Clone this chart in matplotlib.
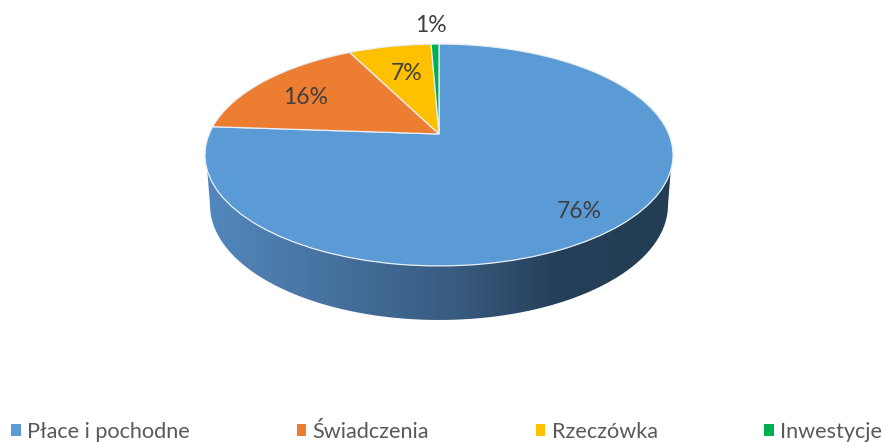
import numpy as np
import matplotlib
matplotlib.use("Agg")
import matplotlib.pyplot as plt
from matplotlib.colors import LinearSegmentedColormap
from matplotlib.patches import Patch, PathPatch
from matplotlib.path import Path
from matplotlib.transforms import Transform

plt.rcParams["font.family"] = ["Lato", "DejaVu Sans"]

categories = ["Płace i pochodne", "Świadczenia", "Rzeczówka", "Inwestycje"]
values = [76.1, 16.4, 6.85, 0.65]
colors = ["#5B9BD5", "#ED7D31", "#FFC000", "#00B050"]
label_pos = [(579, 211), (306, 98), (407, 74), (431, 26)]

# Geometria tilted pie w pikselach
APEX_X, APEX_Y = 439, 134
TILT = 0.189
SCALE_X, SCALE_Y = 229.8, 107.0


class PiePerspective(Transform):
    # Rzut kola jednostkowego z ax.pie na pochylona tarcze
    input_dims = 2
    output_dims = 2
    has_inverse = False

    def transform_non_affine(self, xy):
        xy = np.asarray(xy)
        w = 1 + TILT * xy[:, 1]
        return np.column_stack([APEX_X + SCALE_X * xy[:, 0] / w,
                                APEX_Y - SCALE_Y * xy[:, 1] / w])


fig = plt.figure(figsize=(8.86, 4.42), dpi=100)
ax = fig.add_axes([0, 0, 1, 1])

wedges, _, autotexts = ax.pie(
    values, colors=colors, startangle=90, counterclock=False,
    autopct="%.0f%%", textprops={"fontsize": 16.5, "color": "#404040"},
    wedgeprops={"edgecolor": "#e8eef5", "linewidth": 0.9},
)
persp = PiePerspective() + ax.transData
for w in wedges:
    w.set_transform(persp)
    w.set_zorder(3)
for t, pos in zip(autotexts, label_pos):
    t.set_position(pos)
    t.set_zorder(4)

# Bok tarczy: gradient przyciety do obszaru miedzy dwiema elipsami
t_top = np.radians(np.linspace(172, 8, 120))
top_edge = np.column_stack([439 + 234 * np.cos(t_top), 155 + 111 * np.sin(t_top)])
t_low = np.radians(np.linspace(0, 180, 120))
low_edge = np.column_stack([439 + 229 * np.cos(t_low), 205 + 115 * np.sin(t_low)])
side_path = Path(np.vstack([top_edge, low_edge, top_edge[:1]]))
side_patch = PathPatch(side_path, facecolor="none", edgecolor="none", transform=ax.transData)
ax.add_patch(side_patch)

side_cmap = LinearSegmentedColormap.from_list(
    "side", [(0, "#5388bd"), (0.3, "#446f9b"), (0.55, "#37597d"), (0.75, "#243f58"), (1, "#233d54")]
)
img = ax.imshow(np.linspace(0, 1, 256).reshape(1, -1), cmap=side_cmap, aspect="auto",
                extent=(205, 673, 325, 150), zorder=2)
img.set_clip_path(side_patch)

ax.set_aspect("auto")
ax.set_xlim(0, 886)
ax.set_ylim(442, 0)
ax.axis("off")

handles = [Patch(facecolor=c, edgecolor="none") for c in colors]
fig.legend(handles, categories, ncol=4, frameon=False, fontsize=15.6,
           labelcolor="#595959", loc="lower left", bbox_to_anchor=(0.0004, -0.024),
           handlelength=0.43, handleheight=0.43, handletextpad=0.30,
           columnspacing=4.93, borderpad=0.2, borderaxespad=0.3)

fig.savefig("out.png", dpi=100)
